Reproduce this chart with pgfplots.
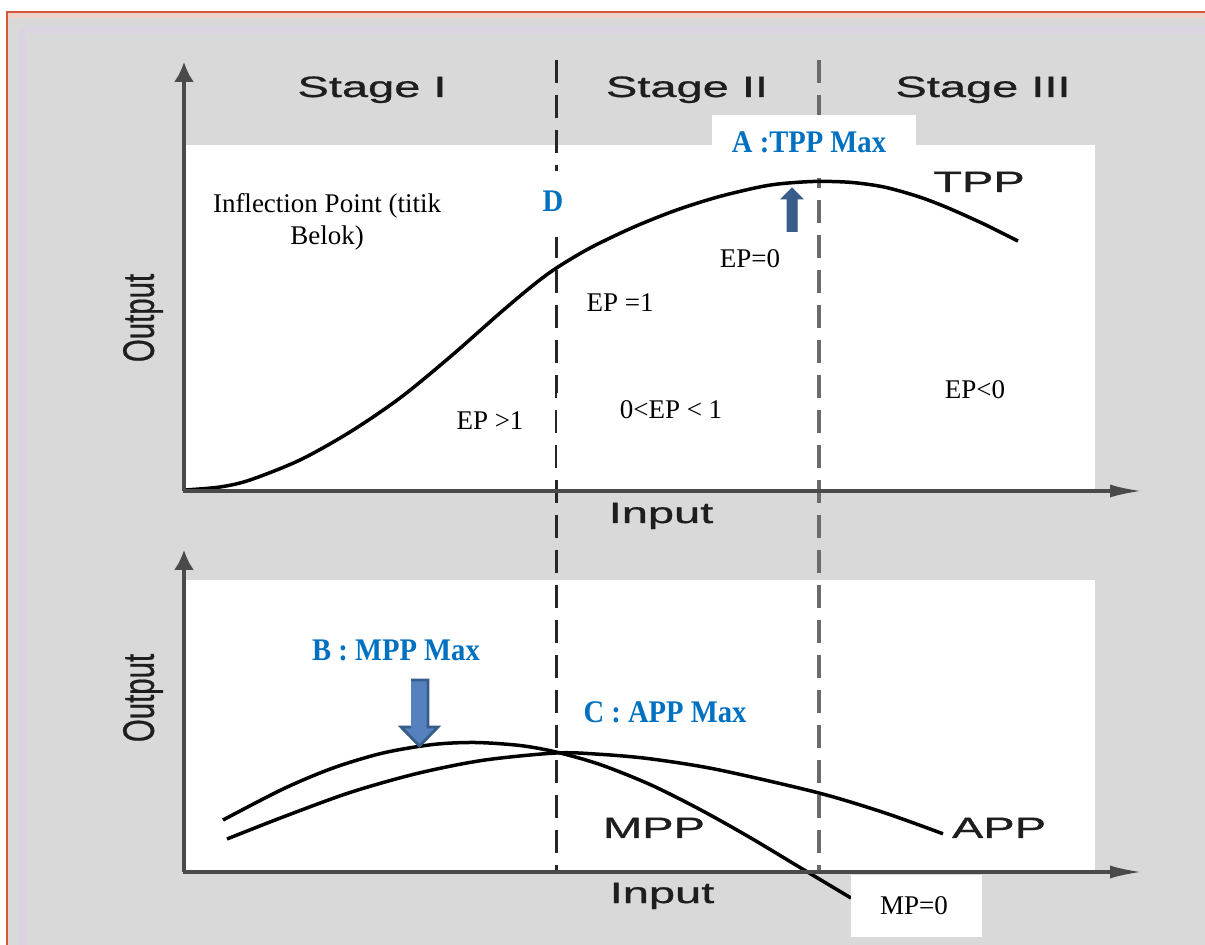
\documentclass[border=0pt]{standalone}
\usepackage{pgfplots}
\pgfplotsset{compat=1.18}
\usepackage{fontspec}
\setmainfont{Liberation Serif}
\newfontfamily\arialf{Liberation Sans}[RawFeature={embolden=0.7}]
\usetikzlibrary{arrows.meta}

\definecolor{bggray}{HTML}{D9D9D9}
\definecolor{frame}{HTML}{D4573C}
\definecolor{pinkband}{HTML}{F0D2C8}
\definecolor{lavband}{HTML}{DCD3E0}
\definecolor{axisgray}{HTML}{4A4A4A}
\definecolor{dash2}{HTML}{6B6B6B}
\definecolor{labelgray}{HTML}{1E1E1E}
\definecolor{msblue}{HTML}{0070C0}
\definecolor{arrowfill}{HTML}{5582BE}
\definecolor{arrowedge}{HTML}{385D8A}

% 1 px of the reference = 0.5pt
\newcommand{\sansfont}{\arialf\fontsize{14.7}{17}\selectfont}
\newcommand{\sans}[1]{\scalebox{1.6}[1]{\sansfont #1}}
\newcommand{\ser}{\fontsize{13.5}{16}\selectfont}
\newcommand{\blue}[1]{\scalebox{1}[1.1]{\color{msblue}\rmfamily\bfseries\fontsize{14.3}{17}\selectfont #1}}

\begin{document}
\begin{tikzpicture}
\begin{axis}[
    x=0.5pt, y=0.5pt,
    xmin=0, xmax=1205, ymin=0, ymax=945,
    y dir=reverse,
    hide axis,
  ]
  % page, frame and grey background
  \addplot[fill=white, draw=none] coordinates {(0,0) (1205,0) (1205,945) (0,945)};
  \addplot[fill=bggray, draw=none] coordinates {(7,12) (1205,12) (1205,945) (7,945)};
  \addplot[fill=pinkband, draw=none] coordinates {(8,13) (1205,13) (1205,18) (8,18)};
  \addplot[fill=lavband, draw=none] coordinates {(20,27) (1205,27) (1205,33) (20,33)};
  \addplot[fill=lavband, draw=none] coordinates {(19,27) (25,27) (25,945) (19,945)};
  \addplot[draw=frame, line width=1pt] coordinates {(7,945) (7,12.5) (1205,12.5)};

  % white plot areas
  \addplot[fill=white, draw=none] coordinates {(185,145) (1095,145) (1095,491) (185,491)};
  \addplot[fill=white, draw=none] coordinates {(185,580) (1095,580) (1095,872) (185,872)};

  % stage boundaries
  \addplot[draw=black!85, line width=1.5pt, dash pattern=on 11.5pt off 6pt]
    coordinates {(556,60) (556,872)};
  \addplot[draw=dash2, line width=1.9pt, dash pattern=on 11.5pt off 6pt]
    coordinates {(819,60) (819,870)};

  % text boxes that hide the dashes
  \addplot[fill=white, draw=none] coordinates {(712,115) (916,115) (916,178) (712,178)};
  \addplot[fill=white, draw=none] coordinates {(540,171) (572,171) (572,237) (540,237)};
  \addplot[fill=white, draw=none] coordinates {(557,393) (563,393) (563,473) (557,473)};

  % TPP
  \addplot[black, line width=1.75pt, smooth] coordinates {
    (185,490) (220,487) (250,480) (300,460) (350,432) (400,398) (450,357)
    (500,313) (533,285.3) (556,268.3) (590,248) (633,227.4) (675,210.6)
    (717,197.2) (759,187.1) (784,183.4) (817,181.4) (851,182.4) (884,187)
    (918,196.5) (947,207.5) (984,224.1) (1018,241.1)
  };
  % MPP
  \addplot[black, line width=1.75pt, smooth] coordinates {
    (223,820) (283,789) (333,768) (383,753) (433,744.5) (475,742.5) (520,745.5)
    (556,752) (600,764.5) (650,784.5) (700,809.5) (750,837.5) (800,867.5) (851,898)
  };
  % APP
  \addplot[black, line width=1.75pt, smooth] coordinates {
    (227,839) (283,817) (350,792.5) (417,773.5) (483,760.3) (556,753)
    (600,754.3) (650,758.8) (717,769.5) (817,792.5) (884,812.6) (943,833.8)
  };

  % axes
  \addplot[draw=axisgray, line width=1.6pt, -{Latex[length=10pt,width=10pt]}]
    coordinates {(184,491) (184,62)};
  \addplot[draw=axisgray, line width=1.6pt, -{Latex[length=16pt,width=6.5pt]}]
    coordinates {(183,491) (1142,491)};
  \addplot[draw=axisgray, line width=1.6pt, -{Latex[length=10pt,width=10pt]}]
    coordinates {(184,872) (184,550)};
  \addplot[draw=axisgray, line width=1.6pt, -{Latex[length=16pt,width=6.5pt]}]
    coordinates {(183,872) (1142,872)};

  % block arrows
  \addplot[fill=arrowedge, draw=arrowedge, line width=0.5pt] coordinates {
    (787,232) (787,199) (781,199) (792,188) (803,199) (797,199) (797,232)
  };
  \addplot[fill=arrowfill, draw=arrowedge, line width=1.4pt] coordinates {
    (411,680) (428,680) (428,727) (438,727) (419.5,746) (401,727) (411,727)
  };

  % MP=0 box
  \addplot[fill=white, draw=none] coordinates {(851,875) (982,875) (982,937) (851,937)};

  % sans labels
  \node[anchor=base, text=labelgray] at (axis cs:372,97) {\sans{Stage I}};
  \node[anchor=base, text=labelgray] at (axis cs:687,97) {\sans{Stage II}};
  \node[anchor=base, text=labelgray] at (axis cs:983,97) {\sans{Stage III}};
  \node[anchor=base, text=labelgray] at (axis cs:979,192) {\sans{TPP}};
  \node[anchor=base, text=labelgray] at (axis cs:661,523) {\sans{Input}};
  \node[anchor=base, text=labelgray] at (axis cs:662,903) {\sans{Input}};
  \node[anchor=base, text=labelgray] at (axis cs:654,838) {\sans{MPP}};
  \node[anchor=base, text=labelgray] at (axis cs:999,838) {\sans{APP}};
  \node[rotate=90, text=labelgray] at (axis cs:143,318)
    {\scalebox{1}[1.5]{\sansfont Output}};
  \node[rotate=90, text=labelgray] at (axis cs:143,698)
    {\scalebox{1}[1.5]{\sansfont Output}};

  % serif annotations
  \node[anchor=base] at (axis cs:327,213) {\ser Inflection Point (titik};
  \node[anchor=base] at (axis cs:327,245) {\ser Belok)};
  \node[anchor=base] at (axis cs:490,430) {\ser EP >1};
  \node[anchor=base] at (axis cs:620,312) {\ser EP =1};
  \node[anchor=base] at (axis cs:750,268) {\ser EP=0};
  \node[anchor=base] at (axis cs:671,419) {\ser 0<EP < 1};
  \node[anchor=base] at (axis cs:975,399) {\ser EP<0};
  \node[anchor=base] at (axis cs:914,914) {\ser MP=0};

  % blue annotations
  \node[anchor=base] at (axis cs:553,212) {\blue{D}};
  \node[anchor=base] at (axis cs:809,153) {\blue{A :TPP Max}};
  \node[anchor=base] at (axis cs:396,661) {\blue{B : MPP Max}};
  \node[anchor=base] at (axis cs:665,723) {\blue{C : APP Max}};
\end{axis}
\end{tikzpicture}
\end{document}
